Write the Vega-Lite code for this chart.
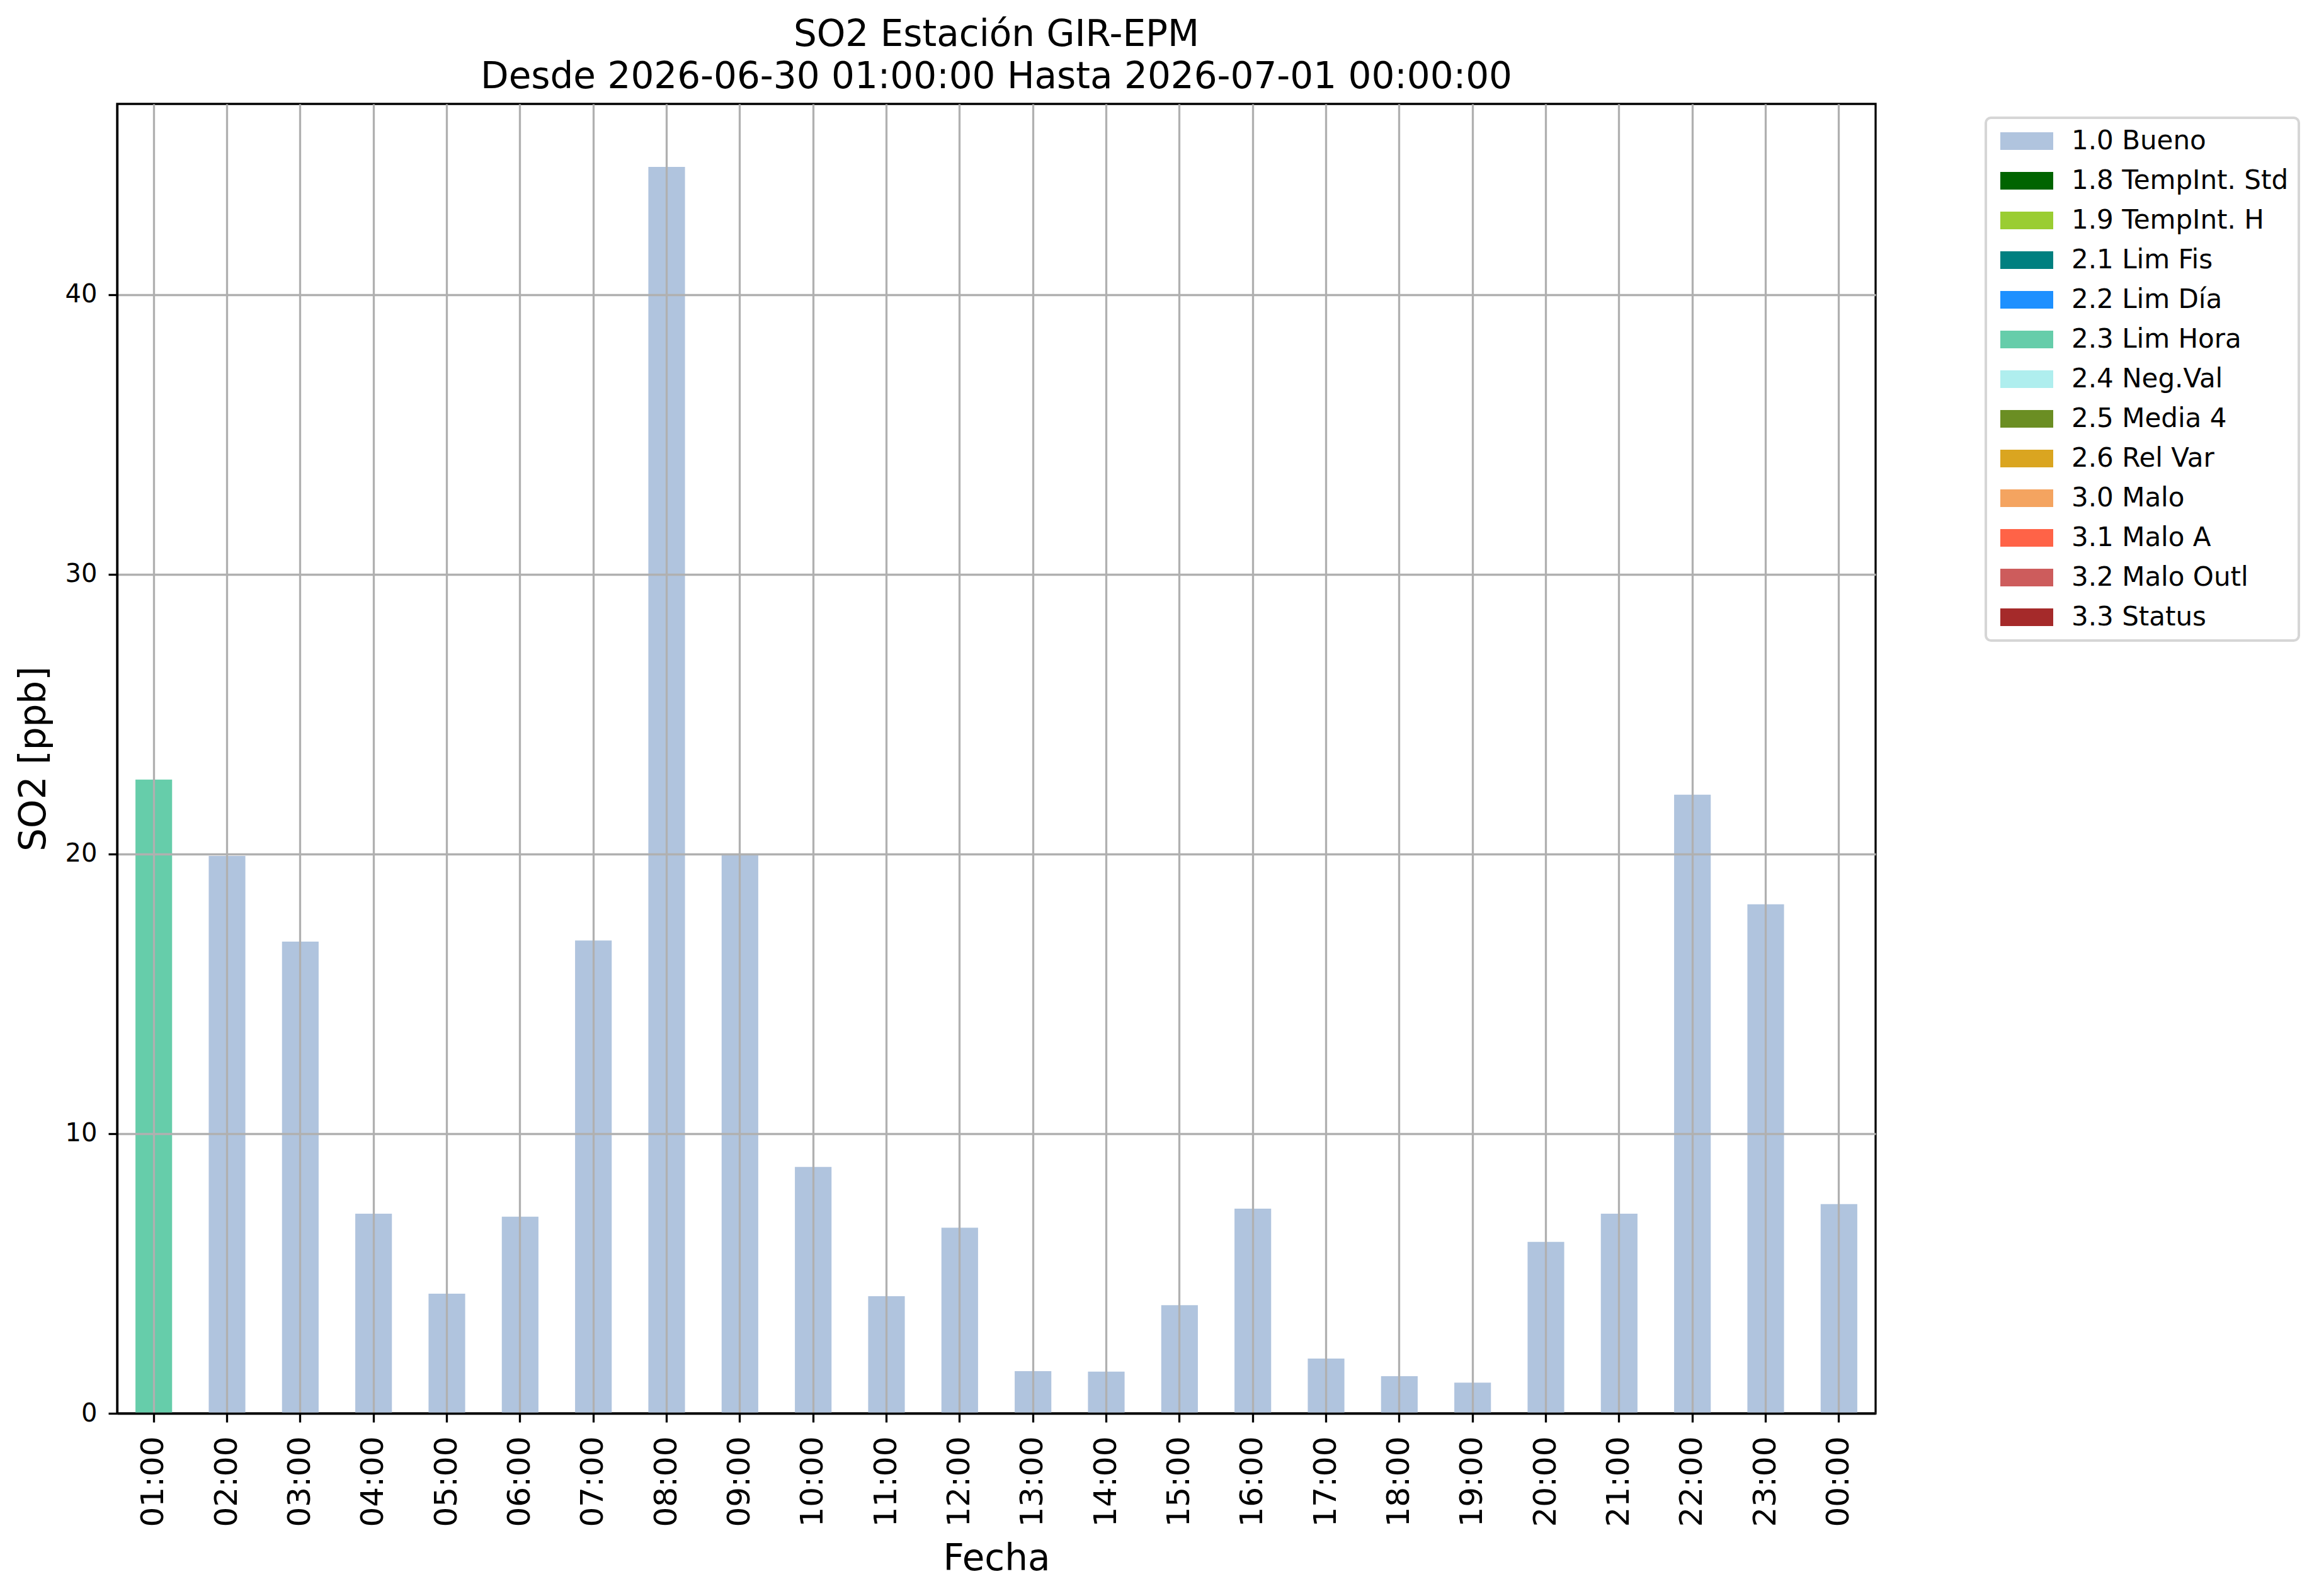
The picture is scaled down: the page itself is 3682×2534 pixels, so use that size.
{
  "$schema": "https://vega.github.io/schema/vega-lite/v6.json",
  "description": "SO2 hourly concentration, coloured by validation flag",
  "autosize": {"type": "none"},
  "padding": {"left": 186, "top": 165, "right": 704, "bottom": 290},
  "width": 2792,
  "height": 2079,
  "background": "white",
  "title": {
    "text": ["SO2 Estación GIR-EPM", "Desde 2026-06-30 01:00:00 Hasta 2026-07-01 00:00:00"],
    "font": "DejaVu Sans",
    "fontSize": 58,
    "fontWeight": "normal",
    "color": "black",
    "lineHeight": 67,
    "anchor": "middle",
    "offset": 13
  },
  "data": {
    "values": [
      {"hora": "01:00", "so2": 22.66, "flag": "2.3 Lim Hora"},
      {"hora": "02:00", "so2": 19.93, "flag": "1.0 Bueno"},
      {"hora": "03:00", "so2": 16.87, "flag": "1.0 Bueno"},
      {"hora": "04:00", "so2": 7.14, "flag": "1.0 Bueno"},
      {"hora": "05:00", "so2": 4.28, "flag": "1.0 Bueno"},
      {"hora": "06:00", "so2": 7.03, "flag": "1.0 Bueno"},
      {"hora": "07:00", "so2": 16.91, "flag": "1.0 Bueno"},
      {"hora": "08:00", "so2": 44.57, "flag": "1.0 Bueno"},
      {"hora": "09:00", "so2": 19.96, "flag": "1.0 Bueno"},
      {"hora": "10:00", "so2": 8.81, "flag": "1.0 Bueno"},
      {"hora": "11:00", "so2": 4.19, "flag": "1.0 Bueno"},
      {"hora": "12:00", "so2": 6.64, "flag": "1.0 Bueno"},
      {"hora": "13:00", "so2": 1.51, "flag": "1.0 Bueno"},
      {"hora": "14:00", "so2": 1.49, "flag": "1.0 Bueno"},
      {"hora": "15:00", "so2": 3.87, "flag": "1.0 Bueno"},
      {"hora": "16:00", "so2": 7.32, "flag": "1.0 Bueno"},
      {"hora": "17:00", "so2": 1.96, "flag": "1.0 Bueno"},
      {"hora": "18:00", "so2": 1.33, "flag": "1.0 Bueno"},
      {"hora": "19:00", "so2": 1.10, "flag": "1.0 Bueno"},
      {"hora": "20:00", "so2": 6.13, "flag": "1.0 Bueno"},
      {"hora": "21:00", "so2": 7.14, "flag": "1.0 Bueno"},
      {"hora": "22:00", "so2": 22.12, "flag": "1.0 Bueno"},
      {"hora": "23:00", "so2": 18.20, "flag": "1.0 Bueno"},
      {"hora": "00:00", "so2": 7.48, "flag": "1.0 Bueno"}
    ]
  },
  "mark": {"type": "bar"},
  "encoding": {
    "x": {
      "field": "hora",
      "type": "ordinal",
      "sort": null,
      "title": "Fecha",
      "scale": {"paddingInner": 0.5, "paddingOuter": 0.25},
      "axis": {
        "zindex": 1,
        "bandPosition": 0.5,
        "labelAngle": 270,
        "labelFontSize": 50,
        "labelPadding": 22,
        "titleFontSize": 58,
        "titlePadding": 22
      }
    },
    "y": {
      "field": "so2",
      "type": "quantitative",
      "title": "SO2 [ppb]",
      "scale": {"domain": [0, 46.82], "nice": false, "zero": true},
      "axis": {
        "zindex": 1,
        "values": [0, 10, 20, 30, 40],
        "labelFontSize": 40,
        "labelPadding": 18,
        "titleFontSize": 58,
        "titlePadding": 20
      }
    },
    "color": {
      "field": "flag",
      "type": "nominal",
      "title": null,
      "scale": {
        "domain": ["1.0 Bueno", "1.8 TempInt. Std", "1.9 TempInt. H", "2.1 Lim Fis", "2.2 Lim Día", "2.3 Lim Hora", "2.4 Neg.Val", "2.5 Media 4", "2.6 Rel Var", "3.0 Malo", "3.1 Malo A", "3.2 Malo Outl", "3.3 Status"],
        "range": ["#B0C4DE", "#006400", "#9ACD32", "#008080", "#1E90FF", "#66CDAA", "#AFEEEE", "#6B8E23", "#DAA520", "#F4A460", "#FF6347", "#CD5C5C", "#A52A2A"]
      },
      "legend": {
        "orient": "none",
        "legendX": 2967,
        "legendY": 22,
        "symbolType": "M-1,-1 L5,-1 L5,1 L-1,1 Z",
        "symbolSize": 784,
        "symbolStrokeWidth": 0,
        "symbolOpacity": 1,
        "labelOffset": 78,
        "labelFontSize": 42,
        "labelFont": "DejaVu Sans",
        "labelColor": "black",
        "labelLimit": 600,
        "rowPadding": 21,
        "padding": 16,
        "strokeColor": "#d6d6d6",
        "fillColor": "white",
        "encode": {
          "legend": {
            "update": {
              "strokeWidth": {"value": 4},
              "cornerRadius": {"value": 8}
            }
          }
        }
      }
    }
  },
  "config": {
    "font": "DejaVu Sans",
    "view": {"stroke": "black", "strokeWidth": 3.3},
    "axis": {
      "labelFont": "DejaVu Sans",
      "titleFont": "DejaVu Sans",
      "labelColor": "black",
      "titleColor": "black",
      "titleFontWeight": "normal",
      "domainColor": "black",
      "domainWidth": 3.3,
      "tickColor": "black",
      "tickWidth": 3.3,
      "tickSize": 14,
      "grid": true,
      "gridColor": "#b0b0b0",
      "gridWidth": 3.3,
      "gridOpacity": 1
    }
  }
}
